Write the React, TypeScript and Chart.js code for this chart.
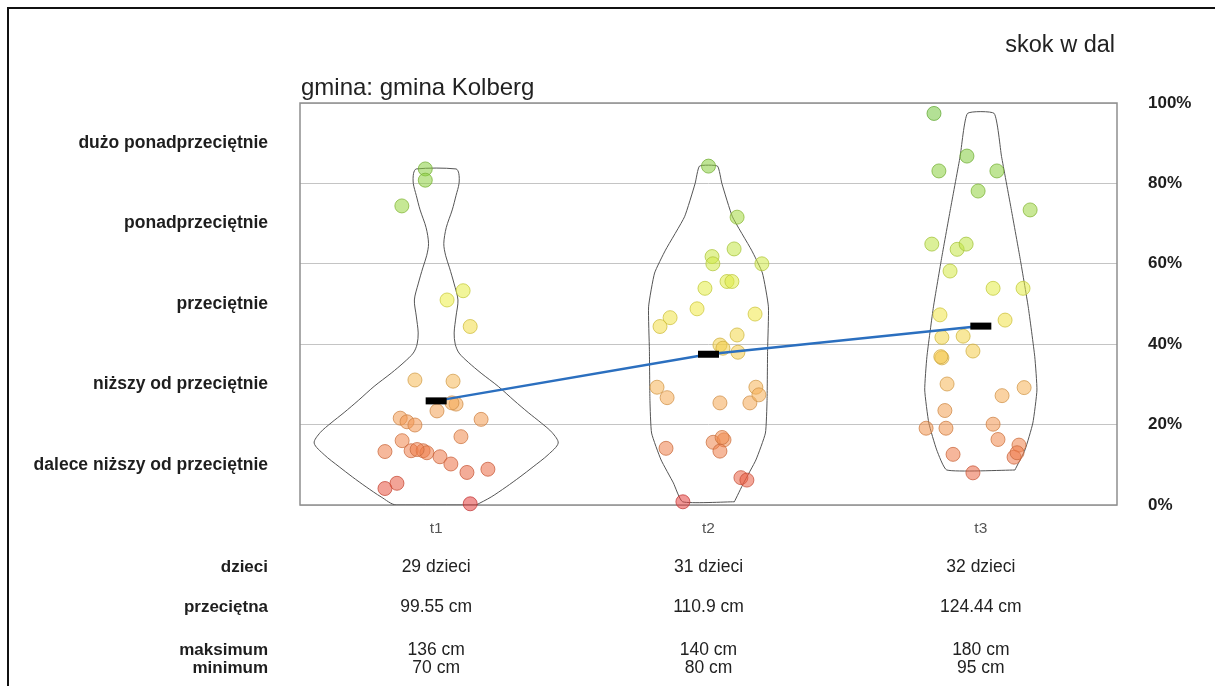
import React, { useEffect, useRef } from "react";
import { Chart, registerables } from "chart.js";

Chart.register(...registerables);

// ---------- data ----------
const categories = ["t1", "t2", "t3"];
const levelLabels = [
  "dalece niższy od przeciętnie",
  "niższy od przeciętnie",
  "przeciętnie",
  "ponadprzeciętnie",
  "dużo ponadprzeciętnie",
];
const levelPositions = [10, 30, 50, 70, 90];
const pctTicks = [0, 20, 40, 60, 80, 100];

const childCounts = [29, 31, 32];
const averagesCm = [99.55, 110.9, 124.44];
const maximaCm = [136, 140, 180];
const minimaCm = [70, 80, 95];

const meanPct = [25.9, 37.5, 44.5];

// percentile values of each child, with horizontal jitter (in category units)
const t1Values = [83.6, 80.8, 74.4, 53.3, 51.0, 44.4, 31.1, 30.8, 25.1, 25.4, 23.4, 21.6, 20.7, 19.9, 21.3, 17.0, 16.0, 13.3, 13.5, 13.5, 13.0, 13.8, 12.0, 10.2, 8.1, 8.9, 4.1, 5.4, 0.3];
const t1Jitter = [-0.04, -0.04, -0.126, 0.099, 0.04, 0.125, -0.078, 0.062, 0.073, 0.058, 0.003, -0.132, -0.107, -0.078, 0.165, 0.091, -0.125, -0.188, -0.092, -0.048, -0.034, -0.07, 0.014, 0.054, 0.113, 0.19, -0.188, -0.144, 0.125];

const t2Values = [84.3, 71.6, 63.7, 61.8, 60.0, 60.0, 53.9, 55.6, 55.6, 48.8, 47.5, 46.6, 44.4, 42.3, 39.8, 39.0, 38.0, 29.3, 26.7, 25.4, 25.4, 29.3, 27.4, 14.1, 15.6, 16.2, 16.8, 13.4, 6.8, 6.2, 0.8];
const t2Jitter = [0, 0.105, 0.094, 0.013, 0.016, 0.196, -0.013, 0.068, 0.086, -0.042, 0.171, -0.141, -0.178, 0.105, 0.042, 0.053, 0.108, -0.189, -0.152, 0.042, 0.152, 0.174, 0.185, -0.156, 0.017, 0.057, 0.05, 0.042, 0.119, 0.141, -0.094];

const t3Values = [97.4, 86.8, 83.1, 83.1, 78.1, 73.4, 64.9, 63.6, 64.9, 58.2, 53.9, 53.9, 47.3, 46.0, 41.7, 42.0, 38.3, 36.6, 36.9, 30.1, 29.2, 27.2, 23.5, 19.1, 19.1, 20.1, 16.3, 14.9, 11.9, 13.0, 12.6, 8.0];
const t3Jitter = [-0.172, -0.051, -0.154, 0.059, -0.01, 0.181, -0.18, -0.087, -0.054, -0.113, 0.045, 0.155, -0.15, 0.089, -0.143, -0.065, -0.029, -0.143, -0.147, -0.124, 0.159, 0.078, -0.132, -0.201, -0.128, 0.045, 0.063, 0.14, 0.122, 0.133, -0.102, -0.029];

// violin density profiles: levels (percentile) and half widths (category units)
const t1ViolinLevels = [0, 2, 4.5, 7, 9.5, 12.5, 15.4, 18, 20.4, 23, 26, 29.5, 32.8, 35.5, 37.8, 40, 42.8, 47, 51, 55, 59, 62, 65, 69, 73.4, 77, 80, 82.5, 83.6];
const t1ViolinHalf = [0.147, 0.202, 0.257, 0.308, 0.356, 0.411, 0.448, 0.426, 0.386, 0.338, 0.286, 0.228, 0.165, 0.118, 0.084, 0.07, 0.066, 0.073, 0.08, 0.066, 0.049, 0.035, 0.028, 0.037, 0.059, 0.073, 0.084, 0.083, 0.073];

const t2ViolinLevels = [0.8, 5.5, 11.2, 17.9, 26, 38.6, 49.3, 57.7, 63.4, 71.7, 80, 84.3];
const t2ViolinHalf = [0.095, 0.129, 0.174, 0.209, 0.215, 0.217, 0.22, 0.198, 0.158, 0.088, 0.049, 0.033];

const t3ViolinLevels = [8.7, 13.7, 20.4, 28.6, 36.9, 49.3, 61.8, 74.2, 86.7, 97.4];
const t3ViolinHalf = [0.125, 0.162, 0.191, 0.206, 0.198, 0.174, 0.143, 0.11, 0.076, 0.049];

const groupValues = [t1Values, t2Values, t3Values];
const groupJitter = [t1Jitter, t2Jitter, t3Jitter];
const violinLevels = [t1ViolinLevels, t2ViolinLevels, t3ViolinLevels];
const violinHalf = [t1ViolinHalf, t2ViolinHalf, t3ViolinHalf];

// ---------- styling helpers ----------
const FONT = "'Liberation Sans', Arial, Helvetica, sans-serif";
const colorStops: [number, number[]][] = [
  [0, [228, 62, 62]],
  [10, [236, 112, 70]],
  [20, [242, 150, 80]],
  [30, [246, 182, 88]],
  [40, [243, 208, 72]],
  [50, [240, 238, 70]],
  [62, [202, 232, 70]],
  [75, [150, 212, 62]],
  [100, [112, 196, 62]],
];
function colorFor(p: number): number[] {
  for (let i = 1; i < colorStops.length; i++) {
    const [p1, c1] = colorStops[i];
    const [p0, c0] = colorStops[i - 1];
    if (p <= p1) {
      const t = (p - p0) / (p1 - p0);
      return c0.map((c, k) => Math.round(c + (c1[k] - c) * t));
    }
  }
  return colorStops[colorStops.length - 1][1];
}
const rgba = (c: number[], a: number) => `rgba(${c[0]},${c[1]},${c[2]},${a})`;

function violinPath(idx: number) {
  const lv = violinLevels[idx];
  const hw = violinHalf[idx];
  const cx = idx + 1;
  const pts: { x: number; y: number }[] = [];
  for (let i = 0; i < lv.length; i++) pts.push({ x: cx + hw[i], y: lv[i] });
  for (let i = lv.length - 1; i >= 0; i--) pts.push({ x: cx - hw[i], y: lv[i] });
  pts.push({ x: cx + hw[0], y: lv[0] });
  return pts;
}

const framePlugin = {
  id: "frameAndTable",
  beforeDraw(chart: any) {
    const { ctx, width, height } = chart;
    ctx.save();
    ctx.fillStyle = "#ffffff";
    ctx.fillRect(0, 0, width, height);
    ctx.strokeStyle = "#111";
    ctx.lineWidth = 2;
    ctx.beginPath();
    ctx.moveTo(width, 8);
    ctx.lineTo(8, 8);
    ctx.lineTo(8, height);
    ctx.stroke();
    ctx.restore();
  },
  beforeDatasetsDraw(chart: any) {
    const { ctx, chartArea } = chart;
    ctx.save();
    ctx.strokeStyle = "#8e8e8e";
    ctx.lineWidth = 1.5;
    ctx.strokeRect(chartArea.left, chartArea.top, chartArea.right - chartArea.left, chartArea.bottom - chartArea.top);
    ctx.restore();
  },
  afterDraw(chart: any) {
    const { ctx, chartArea } = chart;
    const xs = chart.scales.x;
    ctx.save();
    ctx.fillStyle = "#222";
    ctx.textBaseline = "alphabetic";
    ctx.font = `23.5px ${FONT}`;
    ctx.textAlign = "right";
    ctx.fillText("skok w dal", chartArea.right - 2, 52);
    ctx.font = `24px ${FONT}`;
    ctx.textAlign = "left";
    ctx.fillText("gmina: gmina Kolberg", chartArea.left + 1, 95);

    const rows = [
      { label: "dzieci", dy: 67, values: childCounts.map((n) => `${n} dzieci`) },
      { label: "przeciętna", dy: 107, values: averagesCm.map((v) => `${v} cm`) },
      { label: "maksimum", dy: 150, values: maximaCm.map((v) => `${v} cm`) },
      { label: "minimum", dy: 168, values: minimaCm.map((v) => `${v} cm`) },
    ];
    rows.forEach((r) => {
      const y = chartArea.bottom + r.dy;
      ctx.font = `bold 17px ${FONT}`;
      ctx.textAlign = "right";
      ctx.fillStyle = "#1e1e1e";
      ctx.fillText(r.label, chartArea.left - 32, y);
      ctx.font = `17.5px ${FONT}`;
      ctx.textAlign = "center";
      ctx.fillStyle = "#222";
      r.values.forEach((v, i) => ctx.fillText(v, xs.getPixelForValue(i + 1), y));
    });
    ctx.restore();
  },
};

export default function App() {
  const ref = useRef<HTMLCanvasElement | null>(null);
  useEffect(() => {
    document.body.style.margin = "0";
    if (!ref.current) return;

    const violinSets = [0, 1, 2].map((i) => ({
      type: "line" as const,
      data: violinPath(i),
      borderColor: "#555",
      borderWidth: 1,
      pointRadius: 0,
      fill: false,
      tension: i === 0 ? 0.3 : 0.15,
      xAxisID: "x",
      yAxisID: "yR",
      order: 3,
    }));

    const pointSets = [0, 1, 2].map((g) => ({
      type: "scatter" as const,
      data: groupValues[g].map((v, i) => ({ x: g + 1 + groupJitter[g][i], y: v })),
      pointRadius: 7,
      pointBackgroundColor: groupValues[g].map((v) => rgba(colorFor(v), 0.55)),
      pointBorderColor: groupValues[g].map((v) => rgba(colorFor(v).map((c) => c * 0.85), 0.75)),
      pointBorderWidth: 1,
      showLine: false,
      clip: false as any,
      xAxisID: "x",
      yAxisID: "yR",
      order: 2,
    }));

    const meanLine = {
      type: "line" as const,
      data: meanPct.map((v, i) => ({ x: i + 1, y: v })),
      borderColor: "#2b6fbf",
      borderWidth: 2.5,
      pointRadius: 0,
      fill: false,
      tension: 0,
      xAxisID: "x",
      yAxisID: "yR",
      order: 1,
    };

    const meanMarkers = {
      type: "scatter" as const,
      data: meanPct.map((v, i) => ({ x: i + 1, y: v })),
      pointStyle: "line" as const,
      pointRadius: 10.5,
      pointBorderWidth: 7,
      pointBorderColor: "#000",
      pointBackgroundColor: "#000",
      showLine: false,
      clip: false as any,
      xAxisID: "x",
      yAxisID: "yR",
      order: 0,
    };

    const chart = new Chart(ref.current, {
      type: "scatter",
      data: { datasets: [...violinSets, ...pointSets, meanLine, meanMarkers] as any },
      plugins: [framePlugin],
      options: {
        responsive: false,
        animation: false,
        devicePixelRatio: 1,
        layout: { padding: { top: 103, left: 0, right: 0, bottom: 0 } },
        plugins: { legend: { display: false }, tooltip: { enabled: false }, title: { display: false } },
        scales: {
          x: {
            type: "linear",
            position: "bottom",
            min: 0.5,
            max: 3.5,
            afterBuildTicks: (s: any) => {
              s.ticks = categories.map((_, i) => ({ value: i + 1 }));
            },
            afterFit: (s: any) => {
              s.height = 181;
            },
            ticks: {
              callback: (v: any) => categories[Math.round(Number(v)) - 1] ?? "",
              font: { family: FONT, size: 15.5 },
              color: "#555",
              padding: 14,
              maxRotation: 0,
            },
            grid: { display: false, drawTicks: false },
            border: { display: false },
          },
          yL: {
            type: "linear",
            position: "left",
            min: 0,
            max: 100,
            afterBuildTicks: (s: any) => {
              s.ticks = levelPositions.map((v) => ({ value: v }));
            },
            afterFit: (s: any) => {
              s.width = 300;
            },
            ticks: {
              callback: (v: any) => levelLabels[levelPositions.indexOf(Number(v))] ?? "",
              font: { family: FONT, size: 17.5, weight: "bold" },
              color: "#1e1e1e",
              padding: 32,
            },
            grid: { display: false, drawTicks: false },
            border: { display: false },
          },
          yR: {
            type: "linear",
            position: "right",
            min: 0,
            max: 100,
            afterBuildTicks: (s: any) => {
              s.ticks = pctTicks.map((v) => ({ value: v }));
            },
            afterFit: (s: any) => {
              s.width = 98;
            },
            ticks: {
              callback: (v: any) => `${v}%`,
              font: { family: FONT, size: 17, weight: "bold" },
              color: "#1e1e1e",
              padding: 31,
            },
            grid: { color: "#c4c4c4", lineWidth: 1, drawTicks: false },
            border: { display: false },
          },
        },
      } as any,
    });
    return () => chart.destroy();
  }, []);

  return (
    <div style={{ width: 1215, height: 686 }}>
      <canvas ref={ref} width={1215} height={686} style={{ display: "block", width: 1215, height: 686 }} />
    </div>
  );
}
